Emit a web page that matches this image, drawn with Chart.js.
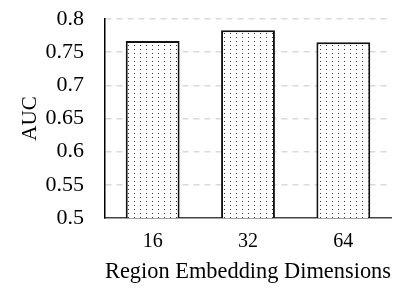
<!DOCTYPE html>
<html>
<head>
<meta charset="utf-8">
<script src="https://cdn.jsdelivr.net/npm/chart.js@4/dist/chart.umd.min.js"></script>
<style>
html,body{margin:0;padding:0;background:#fff;}
#wrap{width:407px;height:303px;}
</style>
</head>
<body>
<div id="wrap"><canvas id="c" width="407" height="303"></canvas></div>
<script>
const categories = ["16", "32", "64"];
const aucValues = [0.767, 0.783, 0.765];
const yTicks = [0.5, 0.55, 0.6, 0.65, 0.7, 0.75, 0.8];

function dotPattern() {
  const p = document.createElement('canvas');
  p.width = 6; p.height = 4;
  const g = p.getContext('2d');
  g.fillStyle = '#fff';
  g.fillRect(0, 0, 6, 4);
  g.fillStyle = '#3a3a3a';
  g.fillRect(2, 1, 1, 1);
  return g.createPattern(p, 'repeat');
}

const font = "'Liberation Serif', 'Times New Roman', serif";

new Chart(document.getElementById('c'), {
  type: 'bar',
  data: {
    labels: categories,
    datasets: [{
      data: aucValues,
      backgroundColor: dotPattern(),
      borderColor: '#111',
      borderWidth: 2,
      categoryPercentage: 1,
      barPercentage: 0.565
    }]
  },
  options: {
    responsive: false,
    animation: false,
    devicePixelRatio: 1,
    layout: { padding: { left: 18, right: 16, top: 0, bottom: 20 } },
    plugins: { legend: { display: false }, tooltip: { enabled: false } },
    scales: {
      x: {
        afterFit: (s) => { s.height = 65; },
        grid: { display: false, drawTicks: false },
        border: { display: true, color: '#444', width: 1.5 },
        ticks: { color: '#000', font: { family: font, size: 20 }, padding: 12 },
        title: { display: true, text: 'Region Embedding Dimensions', color: '#000',
                 font: { family: font, size: 22.5, lineHeight: 1 }, padding: 0 }
      },
      y: {
        min: 0.5, max: 0.8,
        afterBuildTicks: (s) => { s.ticks = yTicks.map(v => ({ value: v })); },
        afterFit: (s) => { s.width = 87; s.paddingTop = 19; },
        grid: { color: (ctx) => ctx.tick && ctx.tick.value === 0.5 ? 'rgba(0,0,0,0)' : '#d9d9d9',
                lineWidth: 1.5, drawTicks: false },
        border: { display: true, color: '#000', width: 1.5, dash: [6, 5] },
        ticks: { color: '#000', font: { family: font, size: 22 }, padding: 21,
                 callback: (v) => String(Number(v.toFixed(2))) },
        title: { display: true, text: 'AUC', color: '#000',
                 font: { family: font, size: 21 }, padding: 0 }
      }
    }
  }
});
</script>
</body>
</html>
